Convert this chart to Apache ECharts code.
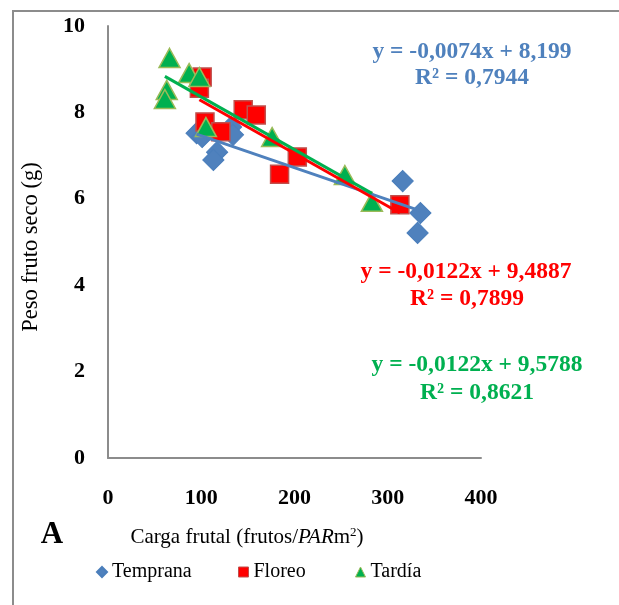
<!DOCTYPE html>
<html>
<head>
<meta charset="utf-8">
<script src="https://cdn.jsdelivr.net/npm/echarts@6/dist/echarts.min.js"></script>
<style>html,body{margin:0;padding:0;background:#fff;}#c{width:619px;height:605px;}</style>
</head>
<body>
<div id="c"></div>
<script>
var seriesNames = ['Temprana', 'Floreo', 'Tardía'];
var tempranaX = [95, 101, 117, 113, 132, 134, 316, 335, 332];
var tempranaY = [7.52, 7.43, 7.08, 6.90, 7.66, 7.48, 6.41, 5.67, 5.21];
var floreoX = [101, 98, 104, 121, 145, 159, 203, 184, 313];
var floreoY = [8.82, 8.56, 7.78, 7.55, 8.06, 7.94, 6.97, 6.57, 5.86];
var tardiaX = [66, 87, 98, 63, 61, 105, 176, 254, 283];
var tardiaY = [9.26, 8.91, 8.82, 8.52, 8.31, 7.66, 7.43, 6.55, 5.93];
// trendline coefficients [slope, intercept, R2]
var trendTemprana = [-0.0074, 8.199, 0.7944];
var trendFloreo = [-0.0122, 9.4887, 0.7899];
var trendTardia = [-0.0122, 9.5788, 0.8621];
var xTicks = [0, 100, 200, 300, 400];
var yTicks = [0, 2, 4, 6, 8, 10];

function pts(xs, ys) { return xs.map(function (x, i) { return [x, ys[i]]; }); }
function trend(xs, c) {
  var mn = Math.min.apply(null, xs), mx = Math.max.apply(null, xs);
  return [[mn, c[0] * mn + c[1]], [mx, c[0] * mx + c[1]]];
}
function fmt(v, d) { return v.toFixed(d).replace('.', ','); }
function eqText(c, d) { return 'y = ' + fmt(c[0], 4) + 'x + ' + fmt(c[1], d); }

var font = 'Liberation Serif';
var blue = '#4f81bd', red = '#ff0000', green = '#00b050';
var eqFont = 'bold 23.5px "Liberation Serif"';

function legendAt(name, icon, left, style) {
  return {
    data: [{ name: name, icon: icon, itemStyle: style }], left: left, top: 562, padding: 0, itemWidth: 10, itemHeight: 10,
    textStyle: { fontFamily: font, fontSize: 20, color: '#000' }
  };
}

var chart = echarts.init(document.getElementById('c'), null, { renderer: 'canvas' });
chart.setOption({
  animation: false,
  backgroundColor: '#fff',
  grid: { left: 108, top: 26, width: 373, height: 432 },
  xAxis: {
    type: 'value', min: xTicks[0], max: xTicks[xTicks.length - 1], interval: 100,
    axisLine: { show: true, lineStyle: { color: '#8c8c8c', width: 2 } },
    axisTick: { show: false }, splitLine: { show: false },
    axisLabel: { margin: 29, fontFamily: font, fontWeight: 'bold', fontSize: 22, color: '#000' }
  },
  yAxis: {
    type: 'value', min: yTicks[0], max: yTicks[yTicks.length - 1], interval: 2,
    axisLine: { show: true, lineStyle: { color: '#8c8c8c', width: 2 } },
    axisTick: { show: false }, splitLine: { show: false },
    axisLabel: { margin: 23, fontFamily: font, fontWeight: 'bold', fontSize: 22, color: '#000' }
  },
  legend: [
    legendAt(seriesNames[0], 'path://M5,0 L10,5 L5,10 L0,5 Z', 96, { color: blue, opacity: 1 }),
    legendAt(seriesNames[1], 'rect', 238, { color: red, borderColor: '#c0504d', borderWidth: 1, opacity: 1 }),
    legendAt(seriesNames[2], 'triangle', 355, { color: green, borderColor: '#9bbb59', borderWidth: 1, opacity: 1 })
  ],
  graphic: [
    { type: 'rect', shape: { x: 13, y: 11, width: 700, height: 700 }, style: { fill: 'none', stroke: '#8c8c8c', lineWidth: 2 }, silent: true, z: -10 },
    { type: 'text', x: 31, y: 247, rotation: Math.PI / 2, style: { text: 'Peso fruto seco (g)', font: '22.5px "Liberation Serif"', fill: '#000', align: 'center', verticalAlign: 'middle' } },
    { type: 'text', x: 247, y: 537, style: {
        text: '{n|Carga frutal (frutos/}{i|PAR}{n|m}{s|2}{n|)}', align: 'center', verticalAlign: 'middle',
        rich: {
          n: { fontFamily: font, fontSize: 21, color: '#000' },
          i: { fontFamily: font, fontSize: 21, fontStyle: 'italic', color: '#000' },
          s: { fontFamily: font, fontSize: 13, color: '#000', verticalAlign: 'top', padding: [0, 0, 8, 0] }
        } } },
    { type: 'text', x: 52, y: 535, style: { text: 'A', font: 'bold 31px "Liberation Serif"', fill: '#000', align: 'center', verticalAlign: 'middle' } },
    { type: 'text', x: 472, y: 52, style: { text: eqText(trendTemprana, 3), font: eqFont, fill: blue, align: 'center', verticalAlign: 'middle' } },
    { type: 'text', x: 472, y: 78, style: { text: 'R² = ' + fmt(trendTemprana[2], 4), font: eqFont, fill: blue, align: 'center', verticalAlign: 'middle' } },
    { type: 'text', x: 466, y: 272, style: { text: eqText(trendFloreo, 4), font: eqFont, fill: red, align: 'center', verticalAlign: 'middle' } },
    { type: 'text', x: 467, y: 299, style: { text: 'R² = ' + fmt(trendFloreo[2], 4), font: eqFont, fill: red, align: 'center', verticalAlign: 'middle' } },
    { type: 'text', x: 477, y: 365, style: { text: eqText(trendTardia, 4), font: eqFont, fill: green, align: 'center', verticalAlign: 'middle' } },
    { type: 'text', x: 477, y: 393, style: { text: 'R² = ' + fmt(trendTardia[2], 4), font: eqFont, fill: green, align: 'center', verticalAlign: 'middle' } }
  ],
  series: [
    { name: seriesNames[0], type: 'scatter', data: pts(tempranaX, tempranaY), symbol: 'rect', symbolRotate: 45, symbolSize: 15,
      itemStyle: { color: blue, borderColor: '#4a7ebb', borderWidth: 1, opacity: 1 }, z: 2 },
    { name: seriesNames[1], type: 'scatter', data: pts(floreoX, floreoY), symbol: 'rect', symbolSize: 18,
      itemStyle: { color: red, borderColor: '#c0504d', borderWidth: 1.5, opacity: 1 }, z: 3 },
    { name: seriesNames[2], type: 'scatter', data: pts(tardiaX, tardiaY), symbol: 'triangle', symbolSize: [21, 19],
      itemStyle: { color: green, borderColor: '#9bbb59', borderWidth: 1.5, opacity: 1 }, z: 4 },
    { name: 'Lineal (Temprana)', type: 'line', data: trend(tempranaX, trendTemprana), symbol: 'none',
      lineStyle: { color: blue, width: 3 }, z: 5 },
    { name: 'Lineal (Floreo)', type: 'line', data: trend(floreoX, trendFloreo), symbol: 'none',
      lineStyle: { color: red, width: 3 }, z: 6 },
    { name: 'Lineal (Tardía)', type: 'line', data: trend(tardiaX, trendTardia), symbol: 'none',
      lineStyle: { color: green, width: 3 }, z: 7 }
  ]
});
</script>
</body>
</html>
